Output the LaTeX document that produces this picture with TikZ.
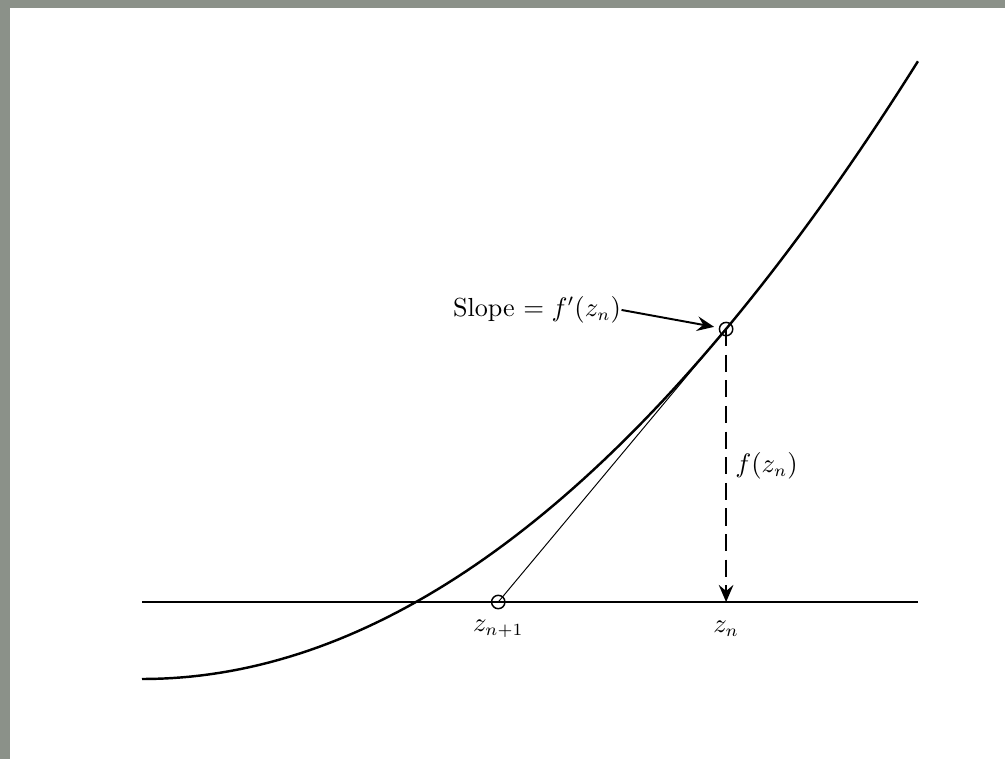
\documentclass[tikz,border=0pt]{standalone}
\usetikzlibrary{arrows.meta,calc}
\definecolor{FrameClr}{rgb}{0.545,0.569,0.537}

\begin{document}
\begin{tikzpicture}[scale=1.44,every node/.style={font=\fontsize{10.7}{13}\selectfont},
  tip/.style={-{Stealth[length=7pt,width=6pt,inset=2.5pt]}}]
\useasboundingbox (-1.42,-1.57) rectangle (8.63,6.02);
\fill[FrameClr] (-1.42,-1.57) rectangle (-1.32,6.02);
\fill[FrameClr] (-1.42,5.94) rectangle (8.63,6.02);

\coordinate (AxL) at (0,0);
\coordinate (AxR) at (7.76,0);
\coordinate (Zn) at (5.84,0);
\coordinate (Fn) at (5.84,2.729);
\coordinate (Znn) at (3.562,0);

\draw[line width=1pt] (AxL) -- (AxR);
\draw[line width=1pt] plot[domain=0:7.76,samples=80] (\x,{0.1026*\x*\x-0.77});

\draw[line width=0.4pt] (Fn) -- (Znn);
\draw[line width=0.9pt,dash pattern=on 7pt off 3.5pt,tip] (Fn) -- (Zn)
  node[midway,right] (fzn) {$f(z_n)$};

\draw[line width=0.6pt] (Fn) circle (1.9pt);
\draw[line width=0.6pt] (Znn) circle (1.9pt);

\node[inner sep=0pt] (slope) at (3.95,2.92) {Slope $= f'(z_n)$};
\draw[line width=0.8pt,tip,shorten >=5pt] (slope.east) -- (Fn);

\node (lznn) at ($(Znn)+(0,-0.27)$) {$z_{n+1}$};
\node (lzn) at ($(Zn)+(0,-0.27)$) {$z_n$};

\end{tikzpicture}
\end{document}
